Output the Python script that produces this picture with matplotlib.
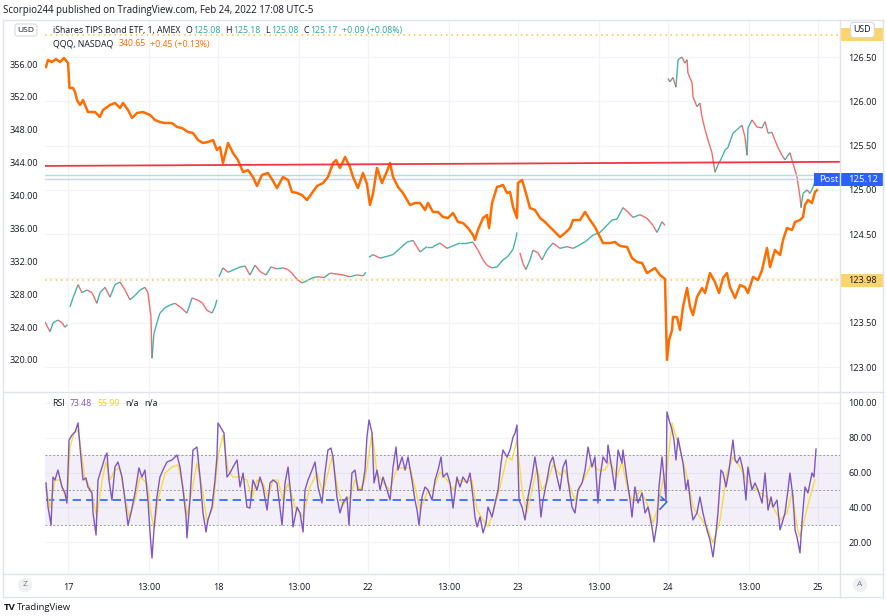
import matplotlib.pyplot as plt
from matplotlib.collections import LineCollection
from matplotlib.patches import Rectangle
from matplotlib.lines import Line2D
import numpy as np

plt.rcParams['font.family'] = ['Open Sans', 'DejaVu Sans']

# x = trading sessions since the Feb 17 open (one session = 09:30-16:00, 390 one-minute bars)
session_names = ["17", "18", "22", "23", "24", "25"]
noon = 210 / 390  # 13:00 is 210 bars into a session

# QQQ (orange line, left scale)
qqq_t = [-0.147, -0.133, -0.107, -0.080, -0.053, -0.027, 0.000, 0.010, 0.033, 0.047,
         0.060, 0.080, 0.100, 0.133, 0.180, 0.213, 0.233, 0.280, 0.313, 0.347,
         0.367, 0.400, 0.427, 0.460, 0.500, 0.547, 0.580, 0.613, 0.647, 0.693,
         0.727, 0.760, 0.800, 0.833, 0.867, 0.900, 0.933, 0.967, 0.993, 1.013,
         1.033, 1.067, 1.100, 1.133, 1.167, 1.200, 1.233, 1.260, 1.293, 1.333,
         1.367, 1.393, 1.433, 1.467, 1.493, 1.527, 1.560, 1.593, 1.627, 1.660,
         1.700, 1.733, 1.767, 1.787, 1.813, 1.847, 1.880, 1.900, 1.933, 1.967,
         1.993, 2.013, 2.033, 2.060, 2.093, 2.127, 2.147, 2.167, 2.200, 2.233,
         2.280, 2.313, 2.347, 2.380, 2.400, 2.433, 2.467, 2.500, 2.533, 2.567,
         2.600, 2.633, 2.667, 2.700, 2.713, 2.733, 2.767, 2.793, 2.807, 2.827,
         2.860, 2.900, 2.927, 2.947, 2.967, 2.993, 3.000, 3.027, 3.047, 3.080,
         3.113, 3.147, 3.180, 3.213, 3.247, 3.280, 3.313, 3.347, 3.367, 3.413,
         3.447, 3.480, 3.513, 3.547, 3.567, 3.613, 3.647, 3.680, 3.727, 3.760,
         3.793, 3.827, 3.860, 3.893, 3.913, 3.947, 3.980, 3.993, 4.007, 4.027,
         4.033, 4.060, 4.080, 4.100, 4.127, 4.147, 4.167, 4.193, 4.227, 4.247,
         4.280, 4.313, 4.340, 4.367, 4.393, 4.413, 4.447, 4.480, 4.513, 4.533,
         4.567, 4.600, 4.627, 4.660, 4.680, 4.713, 4.747, 4.767, 4.793, 4.827,
         4.847, 4.880, 4.900, 4.913, 4.933, 4.960, 4.980, 4.993]
qqq_v = [355.64, 356.49, 356.24, 356.61, 356.24, 356.73, 356.12, 353.08, 353.08, 352.59,
         351.62, 351.01, 351.62, 350.16, 350.16, 349.55, 350.40, 351.01, 351.26, 350.65,
         351.26, 350.40, 349.43, 350.04, 350.16, 349.80, 349.19, 348.94, 348.82, 348.82,
         348.34, 348.21, 347.73, 347.61, 346.75, 346.39, 346.51, 346.75, 345.54, 345.90,
         343.96, 346.39, 345.17, 344.32, 342.86, 343.10, 342.25, 341.16, 342.50, 342.74,
         341.77, 340.91, 342.25, 341.89, 340.43, 340.31, 340.06, 339.45, 340.31, 341.16,
         341.52, 342.25, 343.96, 344.32, 343.35, 344.69, 343.47, 342.25, 340.91, 342.74,
         341.40, 338.85, 340.18, 343.35, 341.52, 342.98, 343.96, 342.25, 341.04, 340.31,
         338.85, 339.09, 339.09, 338.24, 339.09, 338.00, 338.00, 337.39, 337.27, 337.87,
         336.78, 336.66, 336.05, 335.20, 334.59, 335.81, 337.27, 337.63, 336.05, 339.09,
         341.04, 341.28, 340.31, 340.43, 338.60, 337.27, 341.52, 341.89, 340.67, 338.48,
         338.24, 337.27, 336.78, 336.17, 335.56, 334.95, 335.44, 336.05, 337.02, 337.02,
         338.00, 337.02, 336.17, 334.95, 334.22, 334.22, 334.35, 333.86, 333.74, 332.40,
         331.91, 331.79, 330.57, 330.94, 331.18, 330.33, 329.84, 320.00, 322.42, 323.64,
         325.22, 325.22, 323.64, 326.44, 328.75, 326.44, 325.46, 327.65, 328.75, 328.14,
         330.57, 329.48, 328.14, 329.97, 330.57, 328.87, 327.53, 329.11, 328.87, 328.14,
         330.09, 329.72, 330.94, 333.62, 331.30, 333.37, 332.76, 334.59, 336.05, 335.81,
         336.78, 337.02, 337.39, 338.85, 339.45, 339.09, 340.43, 340.65]

# TIP (main symbol, right scale), one list per session
tip_t_16 = [-0.153, -0.120, -0.100, -0.067, -0.040, -0.020, -0.003]
tip_v_16 = [123.51, 123.40, 123.50, 123.53, 123.50, 123.45, 123.48]
tip_t_17 = [0.013, 0.033, 0.067, 0.093, 0.127, 0.160, 0.193, 0.213, 0.247, 0.280,
            0.313, 0.347, 0.380, 0.413, 0.447, 0.480, 0.513, 0.533, 0.553, 0.560,
            0.573, 0.593, 0.613, 0.647, 0.680, 0.713, 0.747, 0.793, 0.827, 0.860,
            0.893, 0.927, 0.960, 0.980, 0.993]
tip_v_17 = [123.68, 123.78, 123.93, 123.84, 123.87, 123.84, 123.72, 123.84, 123.90, 123.79,
            123.93, 123.96, 123.87, 123.76, 123.81, 123.87, 123.90, 123.84, 123.57, 123.10,
            123.38, 123.50, 123.61, 123.67, 123.70, 123.72, 123.68, 123.61, 123.78, 123.76,
            123.73, 123.64, 123.61, 123.68, 123.76]
tip_t_18 = [1.007, 1.033, 1.067, 1.107, 1.147, 1.180, 1.213, 1.247, 1.280, 1.320,
            1.353, 1.393, 1.433, 1.467, 1.493, 1.527, 1.560, 1.600, 1.633, 1.667,
            1.707, 1.747, 1.793, 1.833, 1.880, 1.927, 1.967, 1.987]
tip_v_18 = [124.02, 124.12, 124.07, 124.10, 124.13, 124.14, 124.04, 124.15, 124.08, 124.04,
            124.13, 124.11, 124.12, 124.10, 124.06, 123.99, 123.95, 123.98, 124.01, 124.02,
            124.01, 124.06, 124.05, 124.04, 124.02, 124.04, 124.03, 124.07]
tip_t_22 = [2.007, 2.033, 2.080, 2.127, 2.167, 2.213, 2.260, 2.300, 2.347, 2.393,
            2.433, 2.480, 2.527, 2.567, 2.613, 2.660, 2.700, 2.733, 2.767, 2.793,
            2.827, 2.860, 2.900, 2.933, 2.967, 2.987, 2.993]
tip_v_22 = [124.24, 124.27, 124.23, 124.25, 124.27, 124.34, 124.41, 124.43, 124.30, 124.36,
            124.36, 124.40, 124.34, 124.37, 124.40, 124.40, 124.41, 124.32, 124.21, 124.15,
            124.12, 124.13, 124.21, 124.25, 124.33, 124.46, 124.52]
tip_t_23 = [3.013, 3.033, 3.053, 3.080, 3.100, 3.133, 3.160, 3.193, 3.233, 3.280,
            3.327, 3.367, 3.413, 3.460, 3.500, 3.547, 3.593, 3.627, 3.660, 3.700,
            3.733, 3.767, 3.813, 3.860, 3.900, 3.927, 3.960, 3.980]
tip_v_23 = [124.29, 124.17, 124.10, 124.21, 124.32, 124.29, 124.21, 124.32, 124.40, 124.34,
            124.36, 124.34, 124.38, 124.43, 124.49, 124.52, 124.60, 124.66, 124.67, 124.80,
            124.75, 124.69, 124.72, 124.68, 124.60, 124.52, 124.64, 124.60]
tip_t_24 = [4.000, 4.013, 4.033, 4.053, 4.067, 4.093, 4.113, 4.127, 4.133, 4.160,
            4.167, 4.193, 4.213, 4.227, 4.247, 4.267, 4.293, 4.313, 4.333, 4.360,
            4.380, 4.400, 4.433, 4.460, 4.493, 4.513, 4.527, 4.533, 4.560, 4.593,
            4.627, 4.647, 4.667, 4.693, 4.713, 4.733, 4.760, 4.780, 4.813, 4.833,
            4.860, 4.880, 4.887, 4.900, 4.927, 4.947, 4.967, 4.993]
tip_v_24 = [126.26, 126.22, 126.27, 126.16, 126.47, 126.50, 126.43, 126.47, 126.32, 126.21,
            126.05, 125.94, 125.98, 125.82, 125.68, 125.56, 125.42, 125.20, 125.28, 125.37,
            125.45, 125.48, 125.64, 125.68, 125.73, 125.60, 125.39, 125.70, 125.79, 125.71,
            125.70, 125.77, 125.64, 125.65, 125.56, 125.48, 125.39, 125.34, 125.42, 125.30,
            125.15, 124.92, 124.80, 124.96, 125.00, 124.96, 125.03, 125.17]

# RSI (purple) and its moving average (yellow)
rsi_t = [-0.147, -0.133, -0.113, -0.100, -0.087, -0.067, -0.040, -0.020, -0.007,
         0.007, 0.027, 0.047, 0.067, 0.080, 0.100, 0.120, 0.133, 0.160, 0.167,
         0.187, 0.200, 0.227, 0.247, 0.260, 0.273, 0.293, 0.313, 0.333, 0.360,
         0.380, 0.400, 0.420, 0.447, 0.473, 0.493, 0.513, 0.533, 0.547, 0.560,
         0.573, 0.593, 0.613, 0.633, 0.660, 0.693, 0.727, 0.747, 0.767, 0.787,
         0.793, 0.813, 0.833, 0.860, 0.880, 0.900, 0.920, 0.933, 0.960, 0.980,
         0.993, 1.000, 1.027, 1.040, 1.060, 1.080, 1.100, 1.127, 1.147, 1.167,
         1.193, 1.213, 1.233, 1.260, 1.280, 1.300, 1.327, 1.347, 1.367, 1.393,
         1.427, 1.447, 1.467, 1.493, 1.500,
         1.527, 1.547, 1.567, 1.580, 1.600, 1.627, 1.647, 1.667, 1.693, 1.713,
         1.733, 1.753, 1.767, 1.793, 1.813, 1.833, 1.860, 1.873, 1.893, 1.913,
         1.933, 1.960, 1.980, 1.993, 2.007, 2.027, 2.040, 2.060, 2.080, 2.100,
         2.127, 2.147, 2.167, 2.187, 2.200, 2.227, 2.247, 2.267, 2.293, 2.313,
         2.327, 2.340, 2.360, 2.380, 2.400, 2.427, 2.447, 2.467, 2.487, 2.500,
         2.527, 2.547, 2.567, 2.593, 2.613, 2.633, 2.660, 2.680, 2.700, 2.713,
         2.727, 2.747, 2.767, 2.787, 2.800, 2.827, 2.847, 2.867, 2.887, 2.900,
         2.927, 2.947, 2.967, 2.980, 2.993, 3.007, 3.027, 3.047, 3.067, 3.093,
         3.113, 3.133, 3.153, 3.167, 3.193, 3.213, 3.233, 3.260, 3.280, 3.300,
         3.320, 3.333, 3.360, 3.380, 3.400, 3.427, 3.447, 3.467, 3.493, 3.513,
         3.533,
         3.547, 3.567, 3.593, 3.600, 3.627, 3.647, 3.667, 3.693, 3.700, 3.727,
         3.747, 3.760, 3.780, 3.800, 3.827, 3.847, 3.867, 3.893, 3.907, 3.927,
         3.940, 3.960, 3.973, 3.987, 3.993, 4.007, 4.027, 4.040, 4.053, 4.067,
         4.087, 4.100, 4.120, 4.133, 4.153, 4.167, 4.193, 4.213, 4.233, 4.260,
         4.280, 4.300, 4.320, 4.333, 4.353, 4.367, 4.387, 4.407, 4.433, 4.447,
         4.460, 4.480, 4.500, 4.520, 4.533, 4.560, 4.580, 4.600, 4.627, 4.647,
         4.667, 4.687, 4.700, 4.727, 4.747, 4.767, 4.780, 4.800, 4.813, 4.833,
         4.847, 4.860, 4.880, 4.893, 4.913, 4.933, 4.960, 4.973, 4.987]
rsi_v = [54.0, 40.2, 29.9, 57.4, 55.7, 61.4, 51.7, 48.3, 42.5,
         78.6, 81.5, 83.2, 88.4, 74.6, 55.7, 56.9, 51.7, 48.3, 36.8,
         24.2, 55.7, 63.1, 68.9, 71.2, 55.7, 44.2, 63.1, 66.0, 57.4,
         44.2, 29.9, 36.8, 48.3, 62.6, 57.4, 61.4, 44.2, 25.4, 11.0,
         27.1, 46.0, 57.4, 61.4, 66.0, 67.2, 70.0, 63.1, 50.0, 34.5,
         22.5, 44.2, 72.9, 74.6, 57.4, 36.8, 25.9, 32.8, 40.2, 55.7,
         68.9, 88.4, 84.4, 82.6, 57.4, 59.7, 63.1, 67.2, 51.7, 59.7,
         40.2, 39.6, 55.7, 50.0, 57.4, 51.7, 38.5, 54.0, 55.7, 54.0,
         29.9, 54.0, 63.1, 40.2, 28.8,
         40.2, 36.8, 25.9, 50.0, 55.7, 61.4, 66.0, 51.7, 42.5, 59.7,
         72.9, 74.0, 68.9, 46.0, 36.8, 42.5, 46.0, 29.9, 59.7, 61.4,
         50.0, 50.0, 61.4, 80.3, 90.1, 82.6, 54.0, 61.4, 50.0, 57.4,
         50.0, 44.2, 63.1, 74.6, 61.4, 68.9, 61.4, 68.9, 55.7, 44.2,
         38.5, 29.9, 46.0, 51.7, 50.0, 44.2, 55.7, 61.4, 68.9, 57.4,
         59.7, 54.0, 39.6, 57.4, 51.7, 57.4, 54.0, 59.7, 46.0, 34.5,
         28.8, 34.5, 25.4, 31.1, 40.2, 34.5, 42.5, 50.0, 65.4, 72.9,
         68.9, 72.9, 80.3, 82.6, 87.2, 44.2, 40.2, 32.8, 46.0, 57.4,
         68.9, 57.4, 34.5, 44.2, 55.7, 65.4, 68.9, 57.4, 50.0, 63.1,
         67.2, 55.7, 40.2, 36.8, 50.0, 54.0, 61.4, 74.6, 63.1, 68.9,
         42.5,
         57.4, 68.9, 65.4, 75.8, 61.4, 50.0, 72.9, 65.4, 72.9, 55.7,
         44.2, 34.5, 51.7, 42.5, 48.3, 36.8, 40.2, 28.8, 20.2, 31.1,
         51.7, 68.9, 57.4, 44.2, 94.7, 90.1, 84.4, 78.6, 67.2, 79.8,
         71.2, 65.4, 50.0, 55.7, 40.2, 32.8, 36.8, 46.0, 36.8, 27.1,
         21.3, 11.6, 25.4, 36.8, 61.4, 59.7, 51.7, 61.4, 78.6, 67.2,
         65.4, 68.9, 61.4, 44.2, 63.1, 50.0, 54.0, 50.0, 42.5, 59.7,
         38.5, 46.0, 40.2, 44.2, 27.1, 32.8, 36.8, 50.0, 59.7, 46.0,
         27.1, 23.0, 13.9, 31.1, 51.7, 48.3, 59.7, 57.4, 73.48]

ma_t = [-0.147, -0.120, -0.087, -0.053, -0.007, 0.013, 0.040, 0.067, 0.093, 0.113,
        0.147, 0.193, 0.227, 0.253, 0.280, 0.313, 0.347, 0.380, 0.407, 0.447,
        0.480, 0.527, 0.553, 0.573, 0.600, 0.647, 0.693, 0.733, 0.767, 0.793,
        0.827, 0.860, 0.893, 0.927, 0.967, 1.000, 1.033, 1.067, 1.100, 1.147,
        1.193, 1.227, 1.260, 1.300, 1.333, 1.367, 1.400, 1.433, 1.467, 1.513,
        1.567, 1.613, 1.660, 1.700, 1.760, 1.800, 1.833, 1.880, 1.913, 1.947,
        1.980, 2.027, 2.060, 2.100, 2.147, 2.193, 2.233, 2.280, 2.313, 2.347,
        2.393, 2.433, 2.480, 2.527, 2.567, 2.600, 2.647, 2.693, 2.727, 2.767,
        2.800, 2.833, 2.880, 2.927, 2.960, 2.993, 3.027, 3.060, 3.093, 3.127,
        3.160, 3.193, 3.233, 3.280, 3.313, 3.347, 3.380, 3.413, 3.460, 3.493,
        3.533, 3.580, 3.613, 3.660, 3.693, 3.733, 3.767, 3.813, 3.860, 3.900,
        3.933, 3.967, 3.993, 4.027, 4.060, 4.093, 4.127, 4.167, 4.213, 4.260,
        4.300, 4.347, 4.393, 4.433, 4.480, 4.527, 4.567, 4.613, 4.660, 4.700,
        4.747, 4.793, 4.827, 4.860, 4.880, 4.913, 4.947, 4.980]
ma_v = [51.7, 39.6, 55.7, 55.7, 43.1, 74.6, 82.6, 84.4, 68.9, 55.7,
        51.7, 34.5, 55.7, 66.0, 55.7, 61.4, 62.6, 46.0, 34.5, 44.2,
        57.4, 54.0, 36.8, 28.2, 44.2, 59.7, 63.1, 64.3, 51.7, 35.6,
        50.0, 65.4, 51.7, 31.6, 40.2, 68.9, 81.5, 61.4, 57.4, 57.4,
        55.7, 45.4, 55.7, 54.0, 46.0, 55.7, 55.7, 44.2, 54.0, 40.2,
        34.5, 51.7, 59.7, 48.3, 68.9, 50.0, 41.4, 46.0, 55.7, 50.0,
        55.7, 82.6, 59.7, 54.0, 50.0, 62.6, 62.6, 62.6, 51.7, 38.5,
        48.3, 50.0, 60.3, 55.7, 50.0, 55.7, 54.6, 55.7, 38.5, 32.8,
        28.8, 36.8, 51.7, 68.9, 67.2, 78.6, 50.0, 36.8, 50.0, 62.6,
        50.0, 54.0, 64.3, 58.6, 61.4, 51.7, 44.2, 51.7, 59.7, 65.4,
        61.4, 61.4, 66.6, 57.4, 66.0, 50.0, 42.5, 50.0, 42.5, 31.1,
        40.2, 55.7, 61.4, 88.4, 78.6, 68.9, 57.4, 40.2, 34.5, 28.8,
        19.6, 32.8, 59.7, 68.9, 63.1, 55.7, 51.7, 48.3, 46.0, 40.2,
        32.8, 36.8, 48.3, 28.8, 23.0, 34.5, 46.0, 55.99]

# drawings and price lines
tip_last = 125.17
tip_post = 125.12
tip_prev = 123.98
tip_top_line = 126.75
trend_t = [-0.153, 5.147]
trend_v = [343.6, 344.1]
rsi_path_t = [-0.147, 3.975]
rsi_path_v = [44.5, 44.5]
rsi_head_t = [3.94, 3.993, 3.947]
rsi_head_v = [47.0, 43.2, 39.0]

txt = '#131722'
grid_c = '#f0f3fa'
border = '#e0e3eb'
teal = '#22ab94'
orange = '#ff6d00'
purple = '#7e57c2'

W, H = 886, 616
fig = plt.figure(figsize=(W / 100, H / 100), dpi=100)
renderer = fig.canvas.get_renderer()


def fx(px):
    return px / W


def fy(py):
    return 1 - py / H


ax = fig.add_axes([fx(45), fy(391), fx(840) - fx(45), fy(20) - fy(391)])
ax_q = ax.twinx()
ax_r = fig.add_axes([fx(45), fy(573), fx(840) - fx(45), fy(392) - fy(573)])

xmin, xmax = -0.1533, 5.1467
ticks, tick_labels = [], []
for i, name in enumerate(session_names):
    ticks.append(i)
    tick_labels.append(name)
    if i < len(session_names) - 1:
        ticks.append(i + noon)
        tick_labels.append("13:00")

# main pane: TIP on the right scale
ax.set_xlim(xmin, xmax)
ax.set_ylim(122.73, 126.918)
ax.yaxis.tick_right()
ax.set_yticks(np.arange(123.0, 126.51, 0.5))
ax.yaxis.set_major_formatter('{x:.2f}')
ax.tick_params(axis='y', length=0, pad=6, labelsize=6.6, labelcolor=txt)
ax.set_xticks(ticks)
ax.tick_params(axis='x', length=0, labelbottom=False)
ax.grid(True, color=grid_c, lw=0.9)
ax.set_axisbelow(True)

sessions = [(tip_t_16, tip_v_16), (tip_t_17, tip_v_17), (tip_t_18, tip_v_18),
            (tip_t_22, tip_v_22), (tip_t_23, tip_v_23), (tip_t_24, tip_v_24)]
for t, v in sessions:
    pts = np.column_stack([t, v])
    segs = np.stack([pts[:-1], pts[1:]], axis=1)
    cols = np.where(np.diff(v) >= 0, '#26a69a', '#ef5350')
    ax.add_collection(LineCollection(segs, colors=cols, linewidths=1.0, alpha=0.85))

ax.axhline(tip_last, color='#b2dfdb', lw=1)
ax.axhline(tip_post, color='#c3d3fb', lw=1)
ax.axhline(tip_prev, color='#f9c440', lw=1.1, ls=(0, (1, 2.5)))
ax.axhline(tip_top_line, color='#f9c440', lw=1.1, ls=(0, (1, 2.5)))

# QQQ overlay on the left scale
ax_q.yaxis.tick_left()
ax_q.set_ylim(316.22, 361.353)
ax_q.set_yticks(np.arange(320, 357, 4))
ax_q.yaxis.set_major_formatter('{x:.2f}')
ax_q.tick_params(axis='y', length=0, pad=5, labelsize=6.6, labelcolor=txt)
ax_q.plot(qqq_t, qqq_v, color=orange, lw=1.8, solid_joinstyle='round')
ax_q.plot(trend_t, trend_v, color='#f23645', lw=1.3)

# RSI pane
ax_r.set_xlim(xmin, xmax)
ax_r.set_ylim(2.41, 106.13)
ax_r.yaxis.tick_right()
ax_r.set_yticks([20, 40, 60, 80, 100])
ax_r.yaxis.set_major_formatter('{x:.2f}')
ax_r.tick_params(axis='y', length=0, pad=6, labelsize=6.6, labelcolor=txt)
ax_r.set_xticks(ticks, tick_labels)
ax_r.tick_params(axis='x', length=0, pad=7, labelsize=6.6, labelcolor=txt)
ax_r.grid(True, color=grid_c, lw=0.9)
ax_r.set_axisbelow(True)
ax_r.axhspan(30, 70, color=purple, alpha=0.09, lw=0)
for lvl in (30, 50, 70):
    ax_r.axhline(lvl, color='#9598a1', lw=0.7, ls=(0, (2, 2)))
ax_r.plot(rsi_path_t, rsi_path_v, color='#2962ff', lw=1.2, ls=(0, (5, 3)))
ax_r.plot(rsi_head_t, rsi_head_v, color='#2962ff', lw=1.1)
ax_r.plot(ma_t, ma_v, color='#f7dc3c', lw=1.0)
ax_r.plot(rsi_t, rsi_v, color=purple, lw=1.0)

for a in (ax, ax_q, ax_r):
    for s in a.spines.values():
        s.set_visible(False)

# frame lines
frame = [((3, 883), (20, 20)), ((3, 883), (597, 597)), ((3, 3), (20, 597)),
         ((883, 883), (20, 597)), ((840, 840), (20, 597)), ((3, 883), (391.5, 391.5)),
         ((3, 883), (574, 574))]
for xs, ys in frame:
    fig.add_artist(Line2D([fx(v) for v in xs], [fy(v) for v in ys], color=border, lw=1))


def put(px, py, s, **kw):
    kw.setdefault('fontsize', 6.6)
    kw.setdefault('color', txt)
    kw.setdefault('va', 'center')
    return fig.text(fx(px), fy(py), s, **kw)


def chain(px, py, parts, size=6.3):
    # lay out legend pieces one after another; each part = (text, colour, gap after)
    x = px
    for s, c, gap in parts:
        t = put(x, py, s, color=c, fontsize=size)
        x += t.get_window_extent(renderer).width + gap


def price_y(a, v):
    return fig.transFigure.inverted().transform(a.transData.transform((0, v)))[1]


# header and legends
put(3, 10, 'Scorpio244 published on TradingView.com, Feb 24, 2022 17:08 UTC-5', fontsize=6.9)
put(26, 30, 'USD', ha='center', fontsize=6.1,
    bbox=dict(boxstyle='round,pad=0.3', fc='white', ec='#d1d4dc', lw=0.7))
chain(53, 30.5, [('iShares TIPS Bond ETF, 1, AMEX', txt, 5),
                 ('O', txt, 1), ('125.08', teal, 5),
                 ('H', txt, 1), ('125.18', teal, 5),
                 ('L', txt, 1), ('125.08', teal, 5),
                 ('C', txt, 1), ('125.17', teal, 5),
                 ('+0.09 (+0.08%)', teal, 0)])
chain(53, 44, [('QQQ, NASDAQ', txt, 5), ('340.65', orange, 5), ('+0.45 (+0.13%)', orange, 0)])
chain(52, 403, [('RSI', txt, 5), ('73.48', purple, 5), ('55.99', '#f2cf1d', 6),
                ('n/a', txt, 5), ('n/a', txt, 0)])

# right scale badges (the top one sits under the USD button)
for v in (tip_top_line, tip_prev):
    yc = price_y(ax, v)
    fig.add_artist(Rectangle((fx(841), yc - 6.5 / H), fx(884) - fx(841), 13 / H,
                             facecolor='#fdd36b', edgecolor='none'))
fig.text(fx(862.5), price_y(ax, tip_prev), '123.98', ha='center', va='center',
         fontsize=6.6, color=txt)
put(862.5, 30, 'USD', ha='center', fontsize=6.4,
    bbox=dict(boxstyle='round,pad=0.35', fc='white', ec='#d1d4dc', lw=0.7))

yp = price_y(ax, tip_post)
fig.add_artist(Rectangle((fx(814), yp - 6.5 / H), fx(884) - fx(814), 13 / H,
                         facecolor='#2962ff', edgecolor='none'))
fig.text(fx(819), yp, 'Post', ha='left', va='center', fontsize=6.8, color='white')
fig.text(fx(878), yp, '125.12', ha='right', va='center', fontsize=6.8, color='white')

# time axis buttons and footer
put(25, 585, 'Z', ha='center', color='#787b86', fontsize=6,
    bbox=dict(boxstyle='circle,pad=0.45', fc='#eef0f4', ec='none'))
put(860, 585, 'A', ha='center', color='#787b86', fontsize=6,
    bbox=dict(boxstyle='circle,pad=0.45', fc='#eef0f4', ec='none'))
put(4, 607, 'TV', fontsize=6.8, fontweight='bold')
put(17, 607, 'TradingView', fontsize=6.8)

fig.savefig('out.png', dpi=100)
